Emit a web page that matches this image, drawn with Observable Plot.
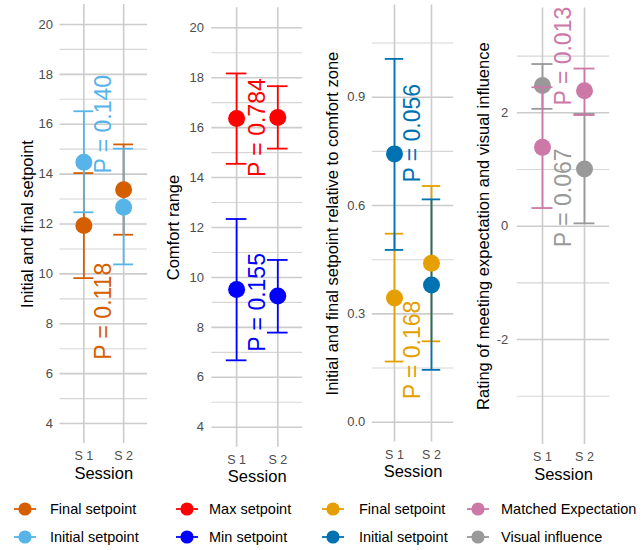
<!DOCTYPE html>
<html><head><meta charset="utf-8">
<script src="https://cdn.jsdelivr.net/npm/d3@7"></script>
<script src="https://cdn.jsdelivr.net/npm/@observablehq/plot@0.6"></script>
<style>
body{margin:0;background:#fff;font-family:"Liberation Sans",Arial,sans-serif;}
#wrap{position:relative;width:643px;height:550px;overflow:hidden;background:#fff;}
#wrap svg.pnl{position:absolute;top:0;max-width:none;overflow:visible;}
.lg{position:absolute;font-size:14.5px;color:#000;white-space:nowrap;line-height:18px;}
.lk{position:absolute;}
</style></head><body><div id="wrap"></div>
<script>
// ---------- data ----------
const sessions = ["S 1", "S 2"];

// Panel 1: initial and final setpoint
const p1Names = ["Final setpoint", "Initial setpoint"];
const p1Colors = ["#D55E00", "#56B4E9"];
const p1FinalMean = [11.94, 13.37], p1FinalLo = [9.83, 11.57], p1FinalHi = [14.04, 15.19];
const p1InitMean = [14.48, 12.67], p1InitLo = [12.47, 10.38], p1InitHi = [16.52, 15.02];
const p1PText = ["P = 0.118", "P = 0.140"], p1PY = [8.5, 16];

// Panel 2: comfort range
const p2Names = ["Max setpoint", "Min setpoint"];
const p2Colors = ["#FF0000", "#0000FF"];
const p2MaxMean = [16.37, 16.41], p2MaxLo = [14.55, 15.16], p2MaxHi = [18.17, 17.66];
const p2MinMean = [9.52, 9.26], p2MinLo = [6.68, 7.79], p2MinHi = [12.34, 10.70];
const p2PText = ["P = 0.784", "P = 0.155"], p2PY = [16, 9];

// Panel 3: setpoint relative to comfort zone
const p3Names = ["Final setpoint", "Initial setpoint"];
const p3Colors = ["#E69F00", "#0072B2"];
const p3FinalMean = [0.344, 0.440], p3FinalLo = [0.168, 0.224], p3FinalHi = [0.522, 0.654];
const p3InitMean = [0.743, 0.380], p3InitLo = [0.477, 0.145], p3InitHi = [1.006, 0.617];
const p3PText = ["P = 0.168", "P = 0.056"], p3PY = [0.2, 0.8];

// Panel 4: rating of expectation and visual influence
const p4Names = ["Matched Expectation", "Visual influence"];
const p4Colors = ["#CC79A7", "#999999"];
const p4MatchMean = [1.39, 2.39], p4MatchLo = [0.32, 1.96], p4MatchHi = [2.45, 2.78];
const p4VisMean = [2.48, 1.01], p4VisLo = [2.07, 0.05], p4VisHi = [2.86, 1.98];
const p4PText = ["P = 0.013", "P = 0.067"], p4PY = [3, 0.5];

// ---------- builder ----------
const FONT = "'Liberation Sans', Arial, sans-serif";
function rowsOf(mean, lo, hi) {
  return sessions.map((s, i) => ({x: i + 1, session: s, mean: mean[i], lo: lo[i], hi: hi[i]}));
}
function panel(cfg) {
  const H = 490;
  const marks = [
    Plot.ruleY(cfg.minor, {stroke: "#d6d6d6", strokeWidth: 1.1}),
    Plot.ruleY(cfg.major, {stroke: "#cccccc", strokeWidth: 1.6}),
    Plot.ruleX([1, 2], {stroke: "#cccccc", strokeWidth: 1.6}),
    Plot.axisY({ticks: cfg.major, tickSize: 0, tickPadding: cfg.tickPad, tickFormat: cfg.fmt,
      fontSize: 13, fill: "#4d4d4d", label: null}),
    Plot.axisX({ticks: [1, 2], tickFormat: d => sessions[d - 1], tickSize: 0, tickPadding: 8,
      fontSize: 12.5, fill: "#4d4d4d", label: null}),
    Plot.text([cfg.title], {text: d => d, frameAnchor: "left", textAnchor: "middle", lineAnchor: "middle",
      rotate: -90, dx: cfg.titleDx, fontSize: 16.5, fill: "#000"}),
    Plot.text(["Session"], {text: d => d, frameAnchor: "bottom", textAnchor: "middle", lineAnchor: "middle",
      dy: 30, fontSize: 16.5, fill: "#000"})
  ];
  for (const s of cfg.series) {
    const rows = rowsOf(s.mean, s.lo, s.hi);
    marks.push(
      Plot.ruleX(rows, {x: "x", y1: "lo", y2: "hi", stroke: s.color, strokeWidth: 1.8}),
      Plot.ruleY(rows, {y: "hi", x1: d => d.x - 0.25, x2: d => d.x + 0.25, stroke: s.color, strokeWidth: 1.8}),
      Plot.ruleY(rows, {y: "lo", x1: d => d.x - 0.25, x2: d => d.x + 0.25, stroke: s.color, strokeWidth: 1.8})
    );
    if (s.dotsNow) marks.push(Plot.dot(rows, {x: "x", y: "mean", r: 8.5, fill: s.color}));
  }
  for (const s of cfg.series) {
    if (!s.dotsNow) marks.push(Plot.dot(rowsOf(s.mean, s.lo, s.hi), {x: "x", y: "mean", r: 8.5, fill: s.color}));
  }
  const ann = cfg.ptext.map((t, i) => ({t, y: cfg.py[i], c: cfg.pcolor[i]}));
  marks.push(Plot.text(ann, {x: 1.5, y: "y", text: "t", fill: d => d.c, rotate: -90, textAnchor: "middle",
    lineAnchor: "middle", fontSize: 23}));
  const svg = Plot.plot({
    width: cfg.right + 6 - cfg.svgLeft, height: H,
    marginLeft: cfg.left - cfg.svgLeft, marginRight: 6,
    marginTop: cfg.top, marginBottom: H - cfg.bottom,
    x: {domain: [0.4, 2.6]}, y: {domain: cfg.domain},
    style: {fontFamily: FONT, background: "none", overflow: "visible"},
    marks
  });
  svg.classList.add("pnl");
  svg.style.left = cfg.svgLeft + "px";
  return svg;
}

const wrap = document.getElementById("wrap");
const int = d => String(d);
wrap.appendChild(panel({
  svgLeft: 0, left: 59.5, right: 147, top: 4, bottom: 443, domain: [3.2, 20.8],
  major: [4, 6, 8, 10, 12, 14, 16, 18, 20], minor: [5, 7, 9, 11, 13, 15, 17, 19], fmt: int, tickPad: 7,
  title: "Initial and final setpoint", titleDx: -32.5,
  series: [
    {color: p1Colors[0], mean: p1FinalMean, lo: p1FinalLo, hi: p1FinalHi},
    {color: p1Colors[1], mean: p1InitMean, lo: p1InitLo, hi: p1InitHi}],
  ptext: p1PText, py: p1PY, pcolor: p1Colors
}));
wrap.appendChild(panel({
  svgLeft: 150, left: 211.4, right: 302, top: 7.3, bottom: 446.7, domain: [3.2, 20.8],
  major: [4, 6, 8, 10, 12, 14, 16, 18, 20], minor: [5, 7, 9, 11, 13, 15, 17, 19], fmt: int, tickPad: 8,
  title: "Comfort range", titleDx: -38.4,
  series: [
    {color: p2Colors[0], mean: p2MaxMean, lo: p2MaxLo, hi: p2MaxHi},
    {color: p2Colors[1], mean: p2MinMean, lo: p2MinLo, hi: p2MinHi}],
  ptext: p2PText, py: p2PY, pcolor: p2Colors
}));
wrap.appendChild(panel({
  svgLeft: 305, left: 371.8, right: 453.2, top: 4.6, bottom: 441.6, domain: [-0.055, 1.155],
  major: [0, 0.3, 0.6, 0.9], minor: [0.15, 0.45, 0.75, 1.05], fmt: d => d.toFixed(1), tickPad: 7,
  title: "Initial and final setpoint relative to comfort zone", titleDx: -39.8,
  series: [
    {color: p3Colors[0], mean: p3FinalMean, lo: p3FinalLo, hi: p3FinalHi},
    {color: p3Colors[1], mean: p3InitMean, lo: p3InitLo, hi: p3InitHi}],
  ptext: p3PText, py: p3PY, pcolor: p3Colors
}));
wrap.appendChild(panel({
  svgLeft: 460, left: 516.8, right: 609.2, top: 7.4, bottom: 444, domain: [-3.85, 3.85],
  major: [-2, 0, 2], minor: [-3, -1, 1, 3], fmt: int, tickPad: 9,
  title: "Rating of meeting expectation and visual influence", titleDx: -33.8,
  series: [
    {color: p4Colors[1], mean: p4VisMean, lo: p4VisLo, hi: p4VisHi, dotsNow: true},
    {color: p4Colors[0], mean: p4MatchMean, lo: p4MatchLo, hi: p4MatchHi, dotsNow: true}],
  ptext: p4PText, py: p4PY, pcolor: p4Colors
}));

// ---------- legend ----------
const legendCols = [
  {kx: 25, tx: 50, names: p1Names, colors: p1Colors},
  {kx: 187, tx: 209, names: p2Names, colors: p2Colors},
  {kx: 333, tx: 359, names: p3Names, colors: p3Colors},
  {kx: 478, tx: 501, names: p4Names, colors: p4Colors}
];
const rowY = [509, 537];
legendCols.forEach(col => {
  col.names.forEach((name, i) => {
    const y = rowY[i];
    const k = document.createElementNS("http://www.w3.org/2000/svg", "svg");
    k.setAttribute("width", 26); k.setAttribute("height", 18);
    k.setAttribute("class", "lk");
    k.style.left = (col.kx - 13) + "px"; k.style.top = (y - 9) + "px";
    k.innerHTML = `<line x1="2" x2="24" y1="9" y2="9" stroke="${col.colors[i]}" stroke-width="1.8"/>` +
      `<circle cx="13" cy="9" r="6.6" fill="${col.colors[i]}"/>`;
    wrap.appendChild(k);
    const t = document.createElement("div");
    t.className = "lg"; t.textContent = name;
    t.style.left = col.tx + "px"; t.style.top = (y - 9) + "px";
    wrap.appendChild(t);
  });
});
</script>
</body></html>
